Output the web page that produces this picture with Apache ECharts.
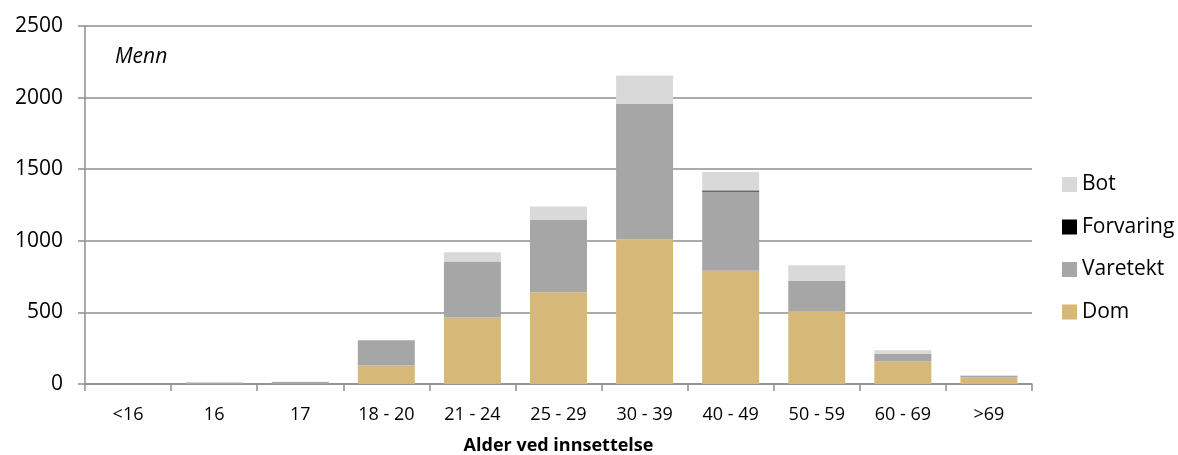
<!DOCTYPE html>
<html>
<head>
<meta charset="utf-8">
<script src="https://cdn.jsdelivr.net/npm/echarts@6/dist/echarts.min.js"></script>
<style>html,body{margin:0;padding:0;background:#fff;}#c{width:1178px;height:455px;}</style>
</head>
<body>
<div id="c"></div>
<script>
const categories = ['<16','16','17','18 - 20','21 - 24','25 - 29','30 - 39','40 - 49','50 - 59','60 - 69','>69'];
const dom       = [0, 0, 0, 130, 465, 640, 1010, 790, 510, 158, 45];
const varetekt  = [0, 10, 14, 175, 390, 505, 945, 555, 210, 52, 12];
const forvaring = [0, 0, 0, 0, 0, 0, 0, 7, 0, 0, 0];
const bot       = [0, 0, 2, 0, 65, 95, 200, 128, 110, 25, 4];
const yTicks = [0, 500, 1000, 1500, 2000, 2500];

const font = '"Open Sans", "Noto Sans", sans-serif';
const axisGray = '#8f8f8f';
const chart = echarts.init(document.getElementById('c'), null, {renderer: 'canvas'});
function bar(name, data, color) {
  return {name, type: 'bar', stack: 'a', data, barWidth: 57,
    itemStyle: {color}, emphasis: {disabled: true}};
}
chart.setOption({
  animation: false,
  textStyle: {fontFamily: font},
  grid: {left: 85, right: 146, top: 26, bottom: 71, containLabel: false, outerBoundsMode: 'none'},
  graphic: [{type: 'text', left: 115, top: 47,
    style: {text: 'Menn', font: 'italic 21px ' + font, fill: '#000'}}],
  legend: {
    orient: 'vertical', left: 1057, top: 169, itemGap: 21.5,
    itemWidth: 15, itemHeight: 15, icon: 'rect',
    data: ['Bot', 'Forvaring', 'Varetekt', 'Dom'],
    textStyle: {fontSize: 21, color: '#000', fontFamily: font, padding: [0,0,0,0]}
  },
  xAxis: {
    type: 'category', data: categories,
    name: 'Alder ved innsettelse', nameLocation: 'middle', nameGap: 53,
    nameTextStyle: {fontSize: 18, fontWeight: 'bold', color: '#000', fontFamily: font},
    axisLine: {lineStyle: {color: axisGray, width: 1.5}},
    axisTick: {show: true, length: 7, alignWithLabel: false, lineStyle: {color: axisGray, width: 1.5}},
    axisLabel: {fontSize: 18, color: '#000', margin: 22, fontFamily: font}
  },
  yAxis: {
    type: 'value', min: 0, max: 2500, interval: 500,
    axisLine: {show: true, lineStyle: {color: axisGray, width: 1.5}},
    axisTick: {show: true, length: 7, lineStyle: {color: axisGray, width: 1.5}},
    axisLabel: {fontSize: 21, color: '#000', margin: 22, fontFamily: font,
      formatter: v => String(v)},
    splitLine: {lineStyle: {color: axisGray, width: 1.5}}
  },
  series: [
    bar('Dom', dom, '#D6B978'),
    bar('Varetekt', varetekt, '#A6A6A6'),
    bar('Forvaring', forvaring, '#000000'),
    bar('Bot', bot, '#D9D9D9')
  ]
});
</script>
</body>
</html>
